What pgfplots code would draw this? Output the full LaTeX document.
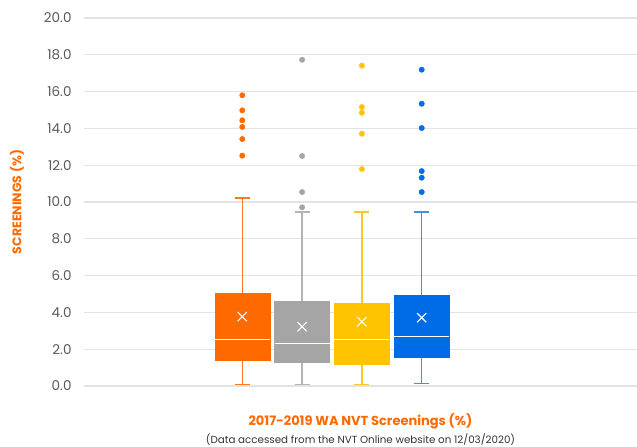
\documentclass[border=0pt]{standalone}
\usepackage{fontspec}
\setmainfont{Poppins}
\usepackage{pgfplots}
\usepgfplotslibrary{statistics}
\pgfplotsset{compat=1.18}
\definecolor{cOr}{HTML}{FF6A00}
\definecolor{cGy}{HTML}{A5A5A5}
\definecolor{cYe}{HTML}{FFC300}
\definecolor{cBl}{HTML}{006BE6}
\definecolor{wOr}{HTML}{FF7A1F}
\definecolor{wGy}{HTML}{B4B4B4}
\definecolor{wYe}{HTML}{FFC826}
\definecolor{wBl}{HTML}{3D8FEB}
\definecolor{gridc}{HTML}{E3E3E3}
\definecolor{tickc}{HTML}{595959}
\begin{document}
\begin{tikzpicture}
\path[use as bounding box] (-84bp,-61bp) rectangle (553bp,386bp);
\begin{axis}[
  at={(0,0)}, anchor=south west,
  scale only axis, width=553bp, height=368bp,
  xmin=-1.647, xmax=7.6, ymin=0, ymax=20,
  ytick={0,2,...,20}, xtick=\empty,
  ymajorgrids, grid style={draw=gridc, line width=1.2bp},
  axis line style={draw=none},
  major tick length=0pt,
  boxplot/draw direction=y,
  /pgf/number format/assume math mode=true,
  yticklabel style={/pgf/number format/fixed, /pgf/number format/fixed zerofill, /pgf/number format/precision=1,
    font=\fontsize{13.5bp}{15bp}\selectfont, text=tickc, anchor=east, xshift=-9bp},
  every axis y label/.style={at={(axis description cs:0,0.5)}, xshift=-67bp, rotate=90, anchor=center,
    font=\fontsize{12.5bp}{14bp}\selectfont\bfseries, text=cOr},
  ylabel={SCREENINGS (\%)},
  every axis x label/.style={at={(axis description cs:0.5,0)}, anchor=center, yshift=-35bp,
    font=\fontsize{13bp}{15bp}\selectfont\bfseries, text=cOr},
  xlabel={2017-2019 WA NVT Screenings (\%)},
  boxplot/every median/.style={draw=white, line width=1.1bp},
  clip=false,
]
\addplot+[boxplot prepared={lower whisker=0.09, lower quartile=1.41, median=2.54, upper quartile=5.05, upper whisker=10.22, draw position=1, box extend=0.92, whisker extend=0.25},
  draw=cOr, fill=cOr, boxplot/every whisker/.style={draw=wOr, line width=1.5bp},
  mark=*, mark size=2.7bp, mark options={draw=cOr, fill=cOr}]
  coordinates {(1,12.52) (1,13.42) (1,14.08) (1,14.44) (1,14.98) (1,15.80)};
\addplot+[boxplot prepared={lower whisker=0.07, lower quartile=1.27, median=2.32, upper quartile=4.62, upper whisker=9.47, draw position=2, box extend=0.92, whisker extend=0.25},
  draw=cGy, fill=cGy, boxplot/every whisker/.style={draw=wGy, line width=1.5bp},
  mark=*, mark size=2.7bp, mark options={draw=cGy, fill=cGy}]
  coordinates {(2,9.71) (2,10.54) (2,12.50) (2,17.73)};
\addplot+[boxplot prepared={lower whisker=0.07, lower quartile=1.21, median=2.54, upper quartile=4.51, upper whisker=9.47, draw position=3, box extend=0.92, whisker extend=0.25},
  draw=cYe, fill=cYe, boxplot/every whisker/.style={draw=wYe, line width=1.5bp},
  mark=*, mark size=2.7bp, mark options={draw=cYe, fill=cYe}]
  coordinates {(3,11.79) (3,13.71) (3,14.85) (3,15.16) (3,17.41)};
\addplot+[boxplot prepared={lower whisker=0.13, lower quartile=1.59, median=2.68, upper quartile=4.95, upper whisker=9.47, draw position=4, box extend=0.92, whisker extend=0.25},
  draw=cBl, fill=cBl, boxplot/every whisker/.style={draw=wBl, line width=1.5bp},
  mark=*, mark size=2.7bp, mark options={draw=cBl, fill=cBl}]
  coordinates {(4,10.54) (4,11.32) (4,11.68) (4,14.02) (4,15.34) (4,17.19)};
\addplot[only marks, mark=x, mark size=6.5bp, draw=white, line width=1.1bp]
  coordinates {(1,3.77) (2,3.22) (3,3.49) (4,3.71)};
\node[anchor=center, yshift=-54bp, font=\fontsize{10.3bp}{12bp}\selectfont, text=black!80] at (axis description cs:0.5,0) {(Data accessed from the NVT Online website on 12/03/2020)};
\end{axis}
\end{tikzpicture}
\end{document}
